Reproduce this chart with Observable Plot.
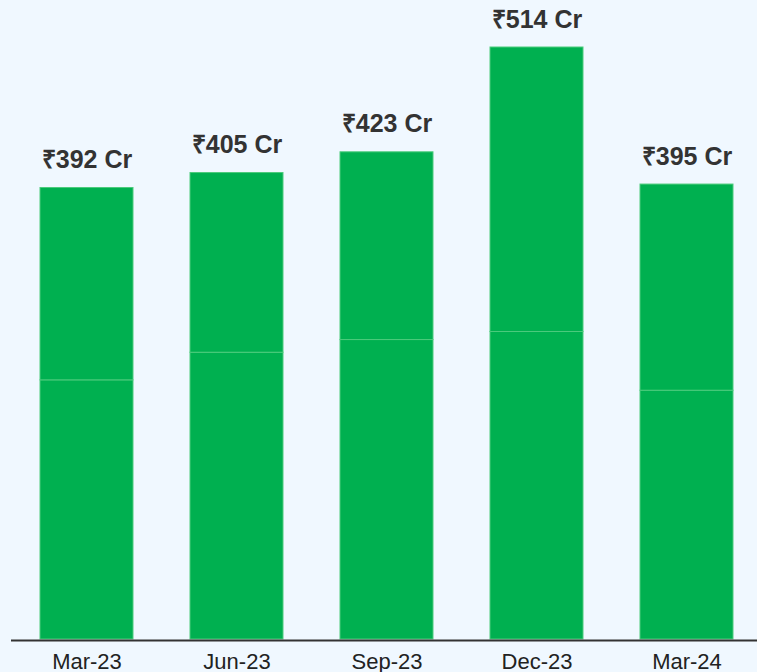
<!DOCTYPE html>
<html>
<head>
<meta charset="utf-8">
<script src="https://cdn.jsdelivr.net/npm/d3@7"></script>
<script src="https://cdn.jsdelivr.net/npm/@observablehq/plot@0.6"></script>
<style>
  html, body { margin: 0; padding: 0; background: #f0f8ff; }
  #chart svg { display: block; }
</style>
</head>
<body>
<div id="chart"></div>
<script>
const periods = ["Mar-23", "Jun-23", "Sep-23", "Dec-23", "Mar-24"];
const totals = [392, 405, 423, 514, 395];
const lowerPart = [225, 249, 260, 267, 216];
const labels = ["₹392 Cr", "₹405 Cr", "₹423 Cr", "₹514 Cr", "₹395 Cr"];

const rows = [];
periods.forEach((p, i) => {
  rows.push({period: p, seg: "a", value: lowerPart[i]});
  rows.push({period: p, seg: "b", value: totals[i] - lowerPart[i]});
});
const labelRows = periods.map((p, i) => ({period: p, total: totals[i], label: labels[i]}));

const chart = Plot.plot({
  width: 757,
  height: 672,
  marginTop: 47,
  marginBottom: 33,
  marginLeft: 11,
  marginRight: 0,
  style: {background: "#f0f8ff", fontFamily: "'Liberation Sans', Arial, sans-serif"},
  x: {domain: periods, range: [-17, 790], padding: 0.38, label: null},
  y: {domain: [0, 514], axis: null},
  marks: [
    Plot.barY(rows, {x: "period", y: "value", order: "seg", fill: "#00b050", stroke: "#4ccb7c", strokeWidth: 1, inset: 0}),
    Plot.ruleY([0], {stroke: "#333", strokeWidth: 2, dy: 1}),
    Plot.axisX({tickSize: 0, tickPadding: 14, fontSize: 22, fill: "#222", label: null}),
    Plot.text(labelRows, {x: "period", y: "total", text: "label", dy: -28, fontSize: 25, fontWeight: "bold", fill: "#333"})
  ]
});
document.getElementById("chart").appendChild(chart);
</script>
</body>
</html>
